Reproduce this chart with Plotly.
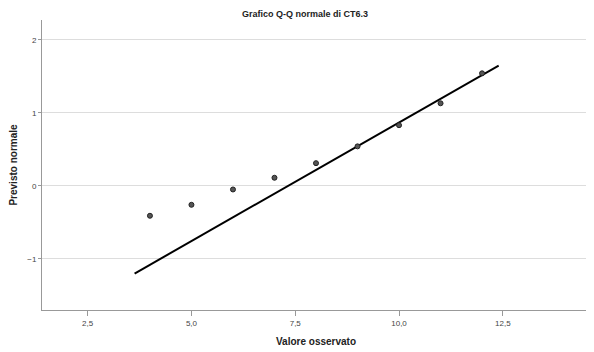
import plotly.graph_objects as go

observed = [4, 5, 6, 7, 8, 9, 10, 11, 12]
expected = [-0.41, -0.26, -0.05, 0.11, 0.31, 0.54, 0.83, 1.13, 1.54]
line_x = [3.63, 12.4]
mean_val = 7.33
sd_val = 3.08
line_z = [(v - mean_val) / sd_val for v in line_x]
x_ticks = [2.5, 5.0, 7.5, 10.0, 12.5]
x_ticklabels = ["2,5", "5,0", "7,5", "10,0", "12,5"]
y_ticks = [-1, 0, 1, 2]

fig = go.Figure()
fig.add_trace(go.Scatter(x=line_x, y=line_z, mode="lines",
                         line=dict(color="black", width=2), showlegend=False))
fig.add_trace(go.Scatter(x=observed, y=expected, mode="markers",
                         marker=dict(size=5, color="#555555", line=dict(color="#222222", width=1)),
                         showlegend=False))

fig.update_layout(
    width=594, height=352,
    margin=dict(l=34, r=12, t=12, b=50, autoexpand=False),
    paper_bgcolor="white", plot_bgcolor="white",
    font=dict(family="Liberation Sans, Arial, sans-serif", color="#222222"),
    title=dict(text="<b>Grafico Q-Q normale di CT6.3</b>", x=0.5, xanchor="center",
               y=0.992, yanchor="top", pad=dict(t=0), font=dict(size=9)),
    xaxis=dict(range=[1.4, 14.6], tickvals=x_ticks, ticktext=x_ticklabels,
               automargin=False,
               showgrid=False, zeroline=False, showline=True, linecolor="#999999",
               ticks="outside", ticklen=5, tickcolor="#999999",
               tickfont=dict(size=8, color="#444444"),
               title=dict(text="<b>Valore osservato</b>", font=dict(size=10), standoff=11)),
    yaxis=dict(range=[-1.7, 2.27], tickvals=y_ticks, automargin=False,
               showgrid=True, gridcolor="#dddddd", gridwidth=1, zeroline=False,
               showline=True, linecolor="#999999",
               ticks="outside", ticklen=3, tickcolor="#999999",
               tickfont=dict(size=8, color="#444444"),
               title=dict(text="<b>Previsto normale</b>", font=dict(size=10), standoff=8)),
)
fig.write_html("out.html")
